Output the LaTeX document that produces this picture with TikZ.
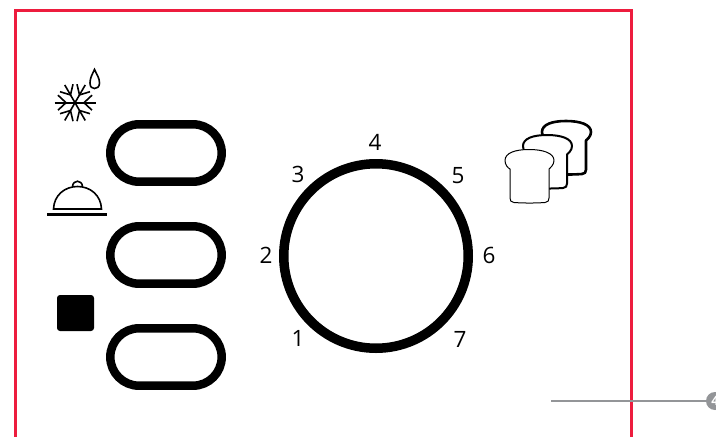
\documentclass[tikz,border=0pt]{standalone}
\usepackage{fontspec}
\setmainfont{Open Sans}
\definecolor{frame}{HTML}{ED1C3E}
\definecolor{callout}{HTML}{939598}
\newcommand{\toastslice}[3]{%
  \draw[draw=black,fill=white,line width=#3,line join=round,shift={(#1,#2)}]
    (505,160.5) .. controls (505,153) and (515,149.5) .. (529,149.5)
    .. controls (543,149.5) and (554,153) .. (554,160.5)
    .. controls (554,165) and (550,168) .. (549,169)
    -- (549,198) .. controls (549,201) and (548,202) .. (545,202.5)
    .. controls (535,203.2) and (524,203.2) .. (514,202.5)
    .. controls (511,202) and (510,201) .. (510,198)
    -- (510,169) .. controls (508,168) and (505,165) .. (505,160.5) -- cycle;}
\tikzset{
  x=1pt,y=-1pt,
  pill/.style={draw=black,line width=8.5pt,rounded corners=28.7pt},
  dial/.style={circle,draw=black,line width=9.5pt,inner sep=0pt},
  num/.style={font=\fontsize{22.5}{24}\selectfont,inner sep=0pt,text=black},
  icon/.style={draw=black,line width=1.6pt},
  frameline/.style={draw=frame,line width=2.6pt},
  leader/.style={draw=callout,line width=1.2pt},
  badge/.style={circle,fill=callout,minimum size=18pt,inner sep=0pt,text=white,font=\bfseries\fontsize{13}{13}\selectfont},
}
\begin{document}
\begin{tikzpicture}
\useasboundingbox (0,0) rectangle (716,437);
\clip (0,0) rectangle (716,437);
\fill[white] (0,0) rectangle (716,437);
% frame
\draw[frameline] (15.5,437) -- (15.5,10.5) -- (631.5,10.5) -- (631.5,437);
% leader
\node[badge] (b4) at (715,401) {4};
\coordinate (l0) at (551,401);
\draw[leader] (l0) -- (b4);
% buttons
\draw[pill] (110.3,124.3) rectangle (221.7,181.7);
\draw[pill] (110.3,226.3) rectangle (221.7,283.7);
\draw[pill] (110.3,328.3) rectangle (221.7,385.7);
\fill[black,rounded corners=3pt] (57,295) rectangle (94,331);
% dial
\node[dial,minimum size=184.5pt] (d) at (376,256) {};
\node[num] (n1) at (298,338) {1};
\node[num] (n2) at (266,255) {2};
\node[num] (n3) at (298,174) {3};
\node[num] (n4) at (375,142) {4};
\node[num] (n5) at (458,176) {5};
\node[num] (n6) at (489,255) {6};
\node[num] (n7) at (460,339) {7};
% snowflake
\begin{scope}[shift={(75,102.7)}]
 \foreach \a in {0,60,120}{
  \begin{scope}[rotate=\a]
   \draw[icon] (-20.5,0) -- (20.5,0);
   \draw[icon] (17,-7.5) -- (9,0) -- (17,7.5);
   \draw[icon] (-17,-7.5) -- (-9,0) -- (-17,7.5);
  \end{scope}}
\end{scope}
% drop
\draw[icon] (94.5,69.5) .. controls (92,75) and (90,78) .. (90,83)
  .. controls (90,87) and (92,88.5) .. (94.5,88.5)
  .. controls (97,88.5) and (99.5,87) .. (99.5,83)
  .. controls (99.5,78) and (97,75) .. (94.5,69.5) -- cycle;
% cloche
\draw[icon] (53.5,209) .. controls (54,195) and (65,186.5) .. (77.5,186.5)
  .. controls (90,186.5) and (101,195) .. (101.5,209) -- cycle;
\draw[icon] (72.5,186.5) .. controls (73,179.5) and (82,179.5) .. (82.5,186.5);
\fill[black] (47,212.5) rectangle (107,215.5);
% toast
\toastslice{37}{-28.5}{2.6pt}
\toastslice{18}{-14.5}{2pt}
\toastslice{0}{0}{1pt}
\end{tikzpicture}
\end{document}
